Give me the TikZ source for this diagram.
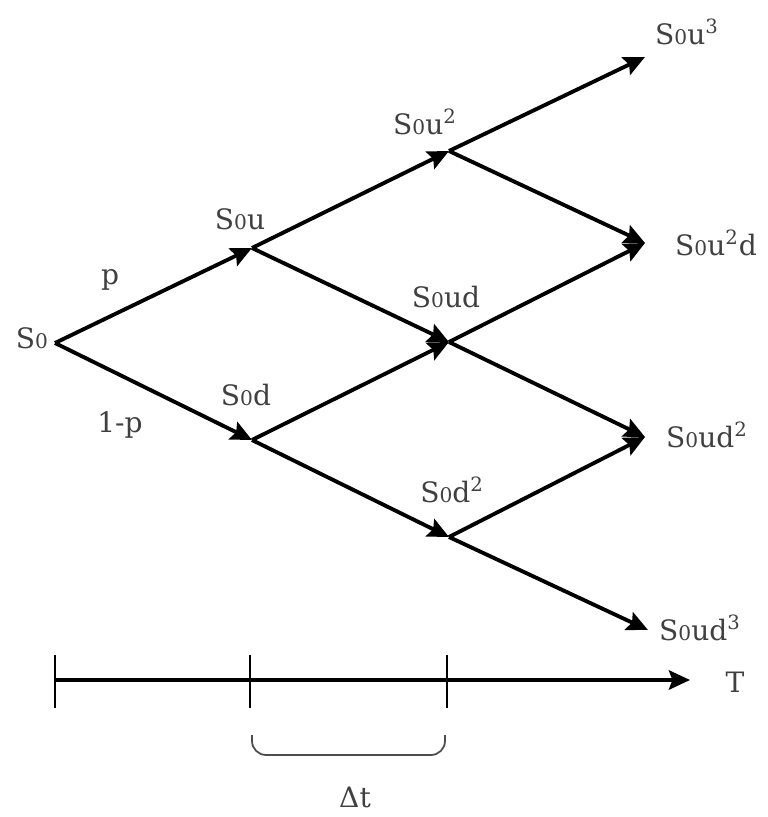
\documentclass[tikz,border=0pt]{standalone}
\usepackage{fontspec}
\setmainfont{DejaVu Serif}
\usetikzlibrary{arrows.meta}
\newcommand{\Sz}{S{\fontsize{11.5}{12}\selectfont 0}}
\begin{document}
\begin{tikzpicture}[x=0.02cm, y=-0.02cm, >={Stealth[length=12pt,width=11pt,inset=2pt]},
    branch/.style={->, line width=2.2pt},
    lbl/.style={text=black!75, font=\fontsize{16}{18}\selectfont, inner sep=0pt},
    tick/.style={line width=1.2pt}]
    \useasboundingbox (0,0) rectangle (767,817);

    % tree points
    \coordinate (S0) at (55,343);
    \coordinate (Su) at (252,248);
    \coordinate (Sd) at (252,440);
    \coordinate (Suu) at (449,151);
    \coordinate (Sud) at (449,342);
    \coordinate (Sdd) at (449,537);
    \coordinate (Suuu) at (645,57);
    \coordinate (Suud) at (645,243);
    \coordinate (Sudd) at (645,437);
    \coordinate (Sddd) at (648,630);

    \draw[branch] (S0) -- (Su);
    \draw[branch] (S0) -- (Sd);
    \draw[branch] (Su) -- (Suu);
    \draw[branch] (Su) -- (Sud);
    \draw[branch] (Sd) -- (Sud);
    \draw[branch] (Sd) -- (Sdd);
    \draw[branch] (Suu) -- (Suuu);
    \draw[branch] (Suu) -- (Suud);
    \draw[branch] (Sud) -- (Suud);
    \draw[branch] (Sud) -- (Sudd);
    \draw[branch] (Sdd) -- (Sudd);
    \draw[branch] (Sdd) -- (Sddd);

    % labels
    \node[lbl] (lS0) at (32,338) {\Sz};
    \node[lbl] (lSu) at (240,219) {\Sz u};
    \node[lbl] (lSd) at (246,395) {\Sz d};
    \node[lbl] (lSuu) at (425,122) {\Sz u\textsuperscript{2}};
    \node[lbl] (lSud) at (446,297) {\Sz ud};
    \node[lbl] (lSdd) at (452,490) {\Sz d\textsuperscript{2}};
    \node[lbl] (lSuuu) at (687,32) {\Sz u\textsuperscript{3}};
    \node[lbl] (lSuud) at (716,243) {\Sz u\textsuperscript{2}d};
    \node[lbl] (lSudd) at (707,435) {\Sz ud\textsuperscript{2}};
    \node[lbl] (lSddd) at (700,628) {\Sz ud\textsuperscript{3}};
    \node[lbl] (lp) at (110,280) {p};
    \node[lbl] (lq) at (120,425) {1-p};

    % time axis
    \coordinate (t0) at (55,680);
    \coordinate (tend) at (690,680);
    \draw[branch] (t0) -- (tend);
    \node[lbl] (lT) at (735,682) {T};
    \foreach \x in {55,250,447}
        \draw[tick] (\x,655) -- (\x,708);

    % bracket for one step
    \draw[line width=1pt, black!70, rounded corners=8pt]
        (252,735) -- (252,755) -- (445,755) -- (445,735);
    \node[lbl] (ldt) at (355,797) {Δt};
\end{tikzpicture}
\end{document}
